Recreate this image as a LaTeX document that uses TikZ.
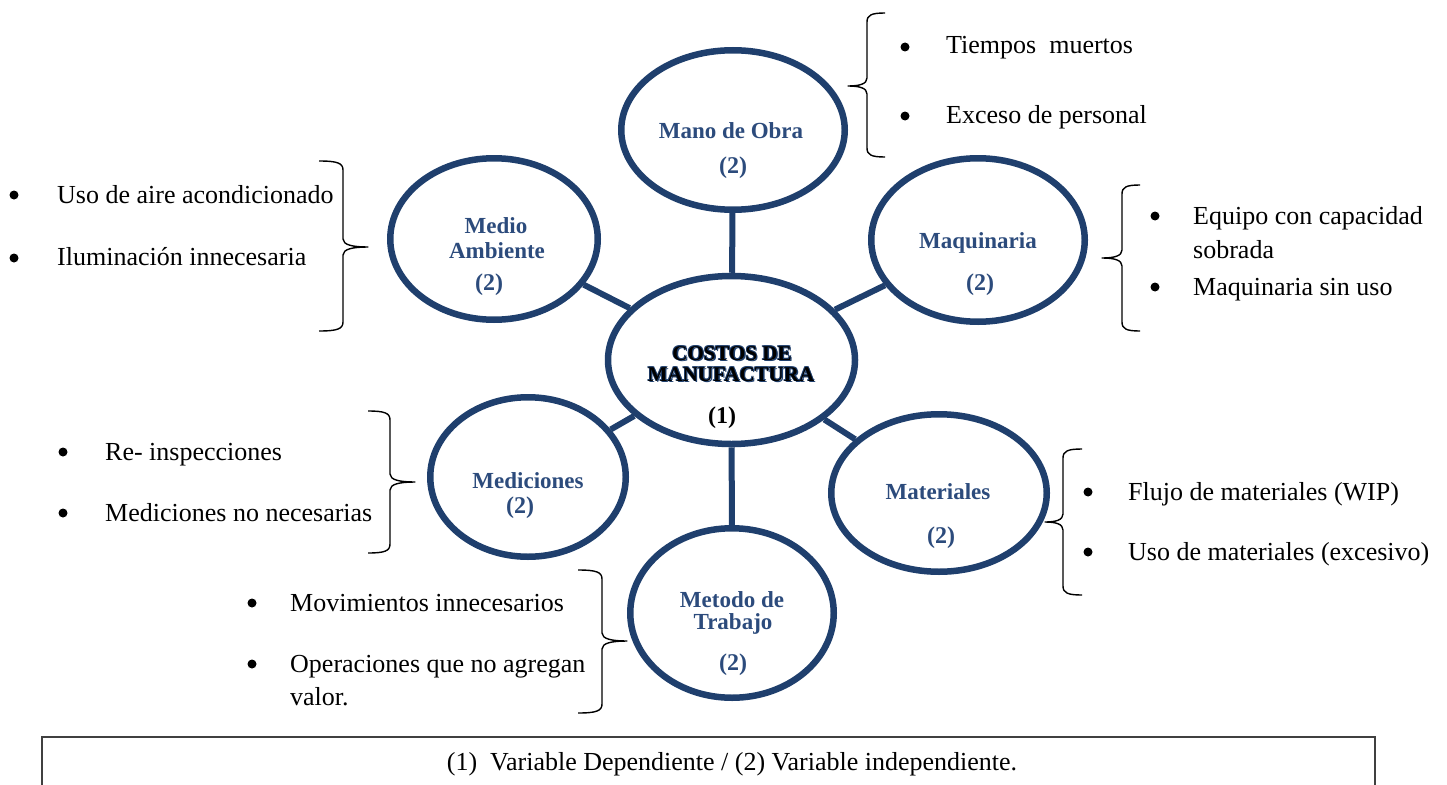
\documentclass[tikz,border=0pt]{standalone}
\usepackage{fontspec}
\setmainfont{Liberation Serif}
\usetikzlibrary{shapes.geometric,shadows}
\definecolor{ringblue}{HTML}{1F3F6D}
\definecolor{labelblue}{HTML}{2C4B7C}
\tikzset{
  ring/.style={ellipse, draw=ringblue, line width=6.5pt, fill=white, inner sep=0pt,
    drop shadow={opacity=0.3, shadow xshift=1.5pt, shadow yshift=-2.5pt}},
  link/.style={draw=ringblue, line width=6pt},
  lbl/.style={inner sep=0pt, anchor=base, text=labelblue, font=\fontsize{23}{27}\selectfont\bfseries},
  num/.style={lbl, font=\fontsize{24}{28}\selectfont\bfseries},
  item/.style={inner sep=0pt, anchor=base west, font=\fontsize{26}{30}\selectfont},
  dot/.style={circle, fill=black, inner sep=0pt, minimum size=9pt},
  bracestyle/.style={draw=black, line width=1.4pt, line join=round},
  title/.style={inner sep=0pt, anchor=base, font=\fontsize{21}{25}\selectfont\bfseries},
}
% black lettering with a blue halo
\newcommand{\halo}[1]{%
  \makebox[0pt][l]{\color{ringblue}\kern1.4pt\raisebox{-1.4pt}{#1}}%
  \makebox[0pt][l]{\color{ringblue}\kern0.7pt\raisebox{0.7pt}{#1}}%
  \makebox[0pt][l]{\color{ringblue}\kern-0.7pt\raisebox{-0.7pt}{#1}}%
  \makebox[0pt][l]{\color{ringblue}\kern-0.7pt\raisebox{0.7pt}{#1}}%
  #1}
% curly brace: x, top y, bottom y, tip y, hook dx, tip dx
\newcommand{\curly}[6]{%
  \draw[bracestyle] ({#1+#5},#2) .. controls ({#1+0.25*#5},#2) and (#1,{#2+2}) .. (#1,{#2+9})
    -- (#1,{#4-8}) .. controls (#1,{#4-2}) and ({#1+0.4*#6},#4) .. ({#1+#6},#4)
    .. controls ({#1+0.4*#6},#4) and (#1,{#4+2}) .. (#1,{#4+8})
    -- (#1,{#3-9}) .. controls (#1,{#3-2}) and ({#1+0.25*#5},#3) .. ({#1+#5},#3);}
\begin{document}
\begin{tikzpicture}[x=1pt,y=-1pt]
\useasboundingbox (0,0) rectangle (1447,784);

% ellipses
\node[ring, minimum width=247pt, minimum height=168pt] (core) at (731.5,360) {};
\node[ring, minimum width=223.5pt, minimum height=159.5pt] (mano) at (733,130) {};
\node[ring, minimum width=207.5pt, minimum height=161.5pt] (medio) at (494,239) {};
\node[ring, minimum width=213.5pt, minimum height=163.5pt] (maq) at (978,240) {};
\node[ring, minimum width=195.5pt, minimum height=159.5pt] (medic) at (528,477) {};
\node[ring, minimum width=215.5pt, minimum height=157.5pt] (mat) at (939,493) {};
\node[ring, minimum width=203.5pt, minimum height=169.5pt] (metodo) at (732,613) {};

% spokes
\draw[link] (core) -- (mano);
\draw[link] (core) -- (medio);
\draw[link] (core) -- (maq);
\draw[link] (core) -- (medic);
\draw[link] (core) -- (mat);
\draw[link] (core) -- (metodo);

% centre title
\node[title] (t1) at (732,360) {\halo{COSTOS DE}};
\node[title] (t2) at (731,381) {\halo{MANUFACTURA}};
\node[title, font=\fontsize{24}{28}\selectfont\bfseries] (t3) at (722,423) {(1)};

% ellipse labels
\node[lbl] (l1) at (731,138) {Mano de Obra};
\node[num] (n1) at (733,173) {(2)};
\node[lbl] (l2a) at (496,233) {Medio};
\node[lbl] (l2b) at (497,258) {Ambiente};
\node[num] (n2) at (489,290) {(2)};
\node[lbl] (l3) at (978,248) {Maquinaria};
\node[num] (n3) at (980,290) {(2)};
\node[lbl] (l4) at (528,488) {Mediciones};
\node[num] (n4) at (520,513) {(2)};
\node[lbl] (l5) at (938,499) {Materiales};
\node[num] (n5) at (941,543) {(2)};
\node[lbl] (l6a) at (732,607) {Metodo de};
\node[lbl] (l6b) at (733,629) {Trabajo};
\node[num] (n6) at (733,670) {(2)};

% braces
\curly{867}{13}{157}{86}{18}{-19}
\curly{343}{161}{331}{247}{-24}{25}
\curly{1122}{185}{331}{258}{18}{-20}
\curly{390}{411}{553}{482}{-22}{25}
\curly{1063}{449}{595}{522}{19}{-18}
\curly{602}{570}{713}{641}{-24}{25}

% lists
\node[dot] (b1) at (905,47) {};
\node[item] (i1) at (946,54) {Tiempos\ \ muertos};
\node[dot] (b2) at (905,116) {};
\node[item] (i2) at (946,123) {Exceso de personal};

\node[dot] (b3) at (14,195) {};
\node[item] (i3) at (57,203) {Uso de aire acondicionado};
\node[dot] (b4) at (14,258) {};
\node[item] (i4) at (57,265) {Iluminación innecesaria};

\node[dot] (b5) at (1155,216) {};
\node[item] (i5) at (1193,224) {Equipo con capacidad};
\node[item] (i5b) at (1193,258) {sobrada};
\node[dot] (b6) at (1155,287) {};
\node[item] (i6) at (1193,295) {Maquinaria sin uso};

\node[dot] (b7) at (63,452) {};
\node[item] (i7) at (105,460) {Re- inspecciones};
\node[dot] (b8) at (63,513) {};
\node[item] (i8) at (105,521) {Mediciones no necesarias};

\node[dot] (b9) at (1088,492) {};
\node[item] (i9) at (1128,500) {Flujo de materiales (WIP)};
\node[dot] (b10) at (1088,552) {};
\node[item] (i10) at (1128,560) {Uso de materiales (excesivo)};

\node[dot] (b11) at (252,603) {};
\node[item] (i11) at (290,611) {Movimientos innecesarios};
\node[dot] (b12) at (252,664) {};
\node[item] (i12) at (290,672) {Operaciones que no agregan};
\node[item] (i12b) at (290,705) {valor.};

% legend (its lower edge runs past the page)
\node[draw=black!75, line width=1.2pt, minimum width=1333pt, minimum height=60pt, inner sep=0pt] (legend) at (708.5,767) {};
\node[item, anchor=base] (legtext) at (732,770) {(1)\ \ Variable Dependiente / (2) Variable independiente.};
\end{tikzpicture}
\end{document}
